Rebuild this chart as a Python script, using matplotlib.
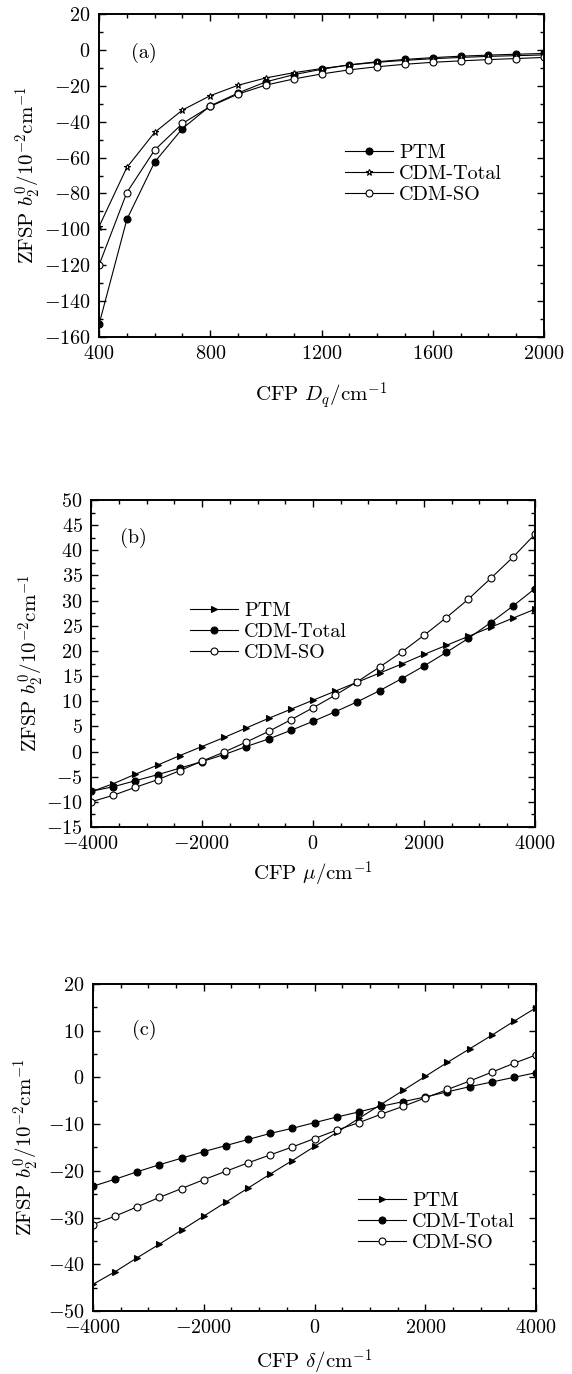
import numpy as np
import matplotlib
matplotlib.use('Agg')
import matplotlib.pyplot as plt
from matplotlib.ticker import MultipleLocator

plt.rcParams['font.family'] = 'serif'
plt.rcParams['font.serif'] = ['cmr10']
plt.rcParams['mathtext.fontset'] = 'cm'
plt.rcParams['axes.formatter.use_mathtext'] = True
plt.rcParams['axes.unicode_minus'] = True

# panel (a): b2^0 vs Dq
dq = [400, 500, 600, 700, 800, 900, 1000, 1100, 1200, 1300, 1400, 1500,
      1600, 1700, 1800, 1900, 2000]
a_ptm = [-153, -94.5, -62.5, -43.8, -31.2, -24, -17.8, -13.8, -10.8, -8.3,
         -6.6, -5.3, -4.3, -3.5, -2.9, -2.4, -2.0]
a_total = [-98.5, -65.5, -46, -33.5, -25.5, -19.7, -15.6, -12.7, -10.4,
           -8.4, -6.9, -5.8, -4.9, -4.2, -3.6, -3.2, -2.8]
a_so = [-120, -79.5, -55.8, -41, -31.5, -24.6, -19.6, -16.2, -13.4, -11.1,
        -9.4, -8.0, -6.9, -6.1, -5.4, -4.8, -4.2]

# panels (b) and (c): x from -4000 to 4000, step 400
xs = list(range(-4000, 4001, 400))
b_ptm = [-8.0, -6.4, -4.5, -2.7, -0.8, 1.0, 2.8, 4.7, 6.6, 8.4, 10.2, 12.0,
         13.8, 15.6, 17.4, 19.3, 21.1, 22.9, 24.7, 26.5, 28.3]
b_total = [-7.9, -7.0, -5.8, -4.6, -3.3, -2.0, -0.6, 1.0, 2.5, 4.2, 6.0, 7.9,
           9.9, 12.1, 14.5, 17.0, 19.7, 22.5, 25.6, 28.9, 32.4]
b_so = [-10.0, -8.7, -7.1, -5.6, -3.8, -1.9, -0.1, 1.9, 4.0, 6.3, 8.7, 11.2,
        13.9, 16.8, 19.8, 23.1, 26.6, 30.3, 34.4, 38.6, 43.2]
c_ptm = [-44.3, -41.6, -38.6, -35.7, -32.7, -29.7, -26.7, -23.7, -20.7,
         -17.8, -14.8, -11.8, -8.8, -5.8, -2.8, 0.2, 3.2, 6.1, 9.0, 12.0, 14.9]
c_total = [-23.3, -21.8, -20.2, -18.7, -17.3, -15.9, -14.6, -13.3, -12.0,
           -10.9, -9.7, -8.5, -7.4, -6.2, -5.2, -4.2, -3.1, -2.0, -1.0, 0.0, 1.0]
c_so = [-31.5, -29.7, -27.7, -25.7, -23.8, -21.9, -20.1, -18.3, -16.6,
        -14.9, -13.1, -11.3, -9.7, -7.9, -6.2, -4.4, -2.6, -0.8, 1.1, 3.0, 4.8]

labels = ['PTM', 'CDM-Total', 'CDM-SO']
ylab = r'ZFSP $b_2^0/10^{-2}$cm$^{-1}$'

fig = plt.figure(figsize=(5.72, 13.74), dpi=100)
ax_a = fig.add_axes([0.1731, 0.7547, 0.778, 0.2351])
ax_b = fig.add_axes([0.1591, 0.3981, 0.7762, 0.2380])
ax_c = fig.add_axes([0.1626, 0.0459, 0.7745, 0.2380])

line_kw = dict(color='black', lw=0.8, ms=5, mew=0.8)
leg_kw = dict(loc='upper left', frameon=False, fontsize=14.5,
              handlelength=2.4, handletextpad=0.3, labelspacing=0.15,
              borderpad=0)


def style(ax, xmaj, xmin, ymaj, ymin):
    ax.xaxis.set_major_locator(MultipleLocator(xmaj))
    ax.xaxis.set_minor_locator(MultipleLocator(xmin))
    ax.yaxis.set_major_locator(MultipleLocator(ymaj))
    ax.yaxis.set_minor_locator(MultipleLocator(ymin))
    ax.tick_params(which='both', direction='in', top=True, right=True,
                   labelsize=14.5, width=1.0)
    ax.tick_params(which='major', length=5, pad=6)
    ax.tick_params(which='minor', length=3)
    for s in ax.spines.values():
        s.set_linewidth(1.4)


# (a)
ax_a.plot(dq, a_ptm, marker='o', mfc='black', label=labels[0], **line_kw)
ax_a.plot(dq, a_total, marker='*', mfc='white', label=labels[1], **line_kw)
ax_a.plot(dq, a_so, marker='o', mfc='white', label=labels[2], **line_kw)
ax_a.set_xlim(400, 2000)
ax_a.set_ylim(-160, 20)
style(ax_a, 400, 100, 20, 10)
ax_a.set_xlabel(r'CFP $D_q/$cm$^{-1}$', fontsize=15, va='center')
ax_a.xaxis.set_label_coords(0.5, -0.18)
ax_a.set_ylabel(ylab, fontsize=15, va='center')
ax_a.yaxis.set_label_coords(-0.16, 0.5)
ax_a.text(0.1, 0.88, '(a)', transform=ax_a.transAxes, fontsize=14.5,
          ha='center', va='center')
ax_a.legend(bbox_to_anchor=(0.53, 0.63), **leg_kw)

# (b)
ax_b.plot(xs, b_ptm, marker='>', mfc='black', label=labels[0], **line_kw)
ax_b.plot(xs, b_total, marker='o', mfc='black', label=labels[1], **line_kw)
ax_b.plot(xs, b_so, marker='o', mfc='white', label=labels[2], **line_kw)
ax_b.set_xlim(-4000, 4000)
ax_b.set_ylim(-15, 50)
style(ax_b, 2000, 500, 5, 2.5)
ax_b.set_xlabel(r'CFP $\mu/$cm$^{-1}$', fontsize=15, va='center')
ax_b.xaxis.set_label_coords(0.5, -0.145)
ax_b.set_ylabel(ylab, fontsize=15, va='center')
ax_b.yaxis.set_label_coords(-0.135, 0.5)
ax_b.text(0.095, 0.884, '(b)', transform=ax_b.transAxes, fontsize=14.5,
          ha='center', va='center')
ax_b.legend(bbox_to_anchor=(0.2, 0.72), **leg_kw)

# (c)
ax_c.plot(xs, c_ptm, marker='>', mfc='black', label=labels[0], **line_kw)
ax_c.plot(xs, c_total, marker='o', mfc='black', label=labels[1], **line_kw)
ax_c.plot(xs, c_so, marker='o', mfc='white', label=labels[2], **line_kw)
ax_c.set_xlim(-4000, 4000)
ax_c.set_ylim(-50, 20)
style(ax_c, 2000, 500, 10, 5)
ax_c.set_xlabel(r'CFP $\delta/$cm$^{-1}$', fontsize=15, va='center')
ax_c.xaxis.set_label_coords(0.5, -0.156)
ax_c.set_ylabel(ylab, fontsize=15, va='center')
ax_c.yaxis.set_label_coords(-0.15, 0.5)
ax_c.text(0.115, 0.86, '(c)', transform=ax_c.transAxes, fontsize=14.5,
          ha='center', va='center')
ax_c.legend(bbox_to_anchor=(0.575, 0.395), **leg_kw)

fig.savefig('out.png', dpi=100)
